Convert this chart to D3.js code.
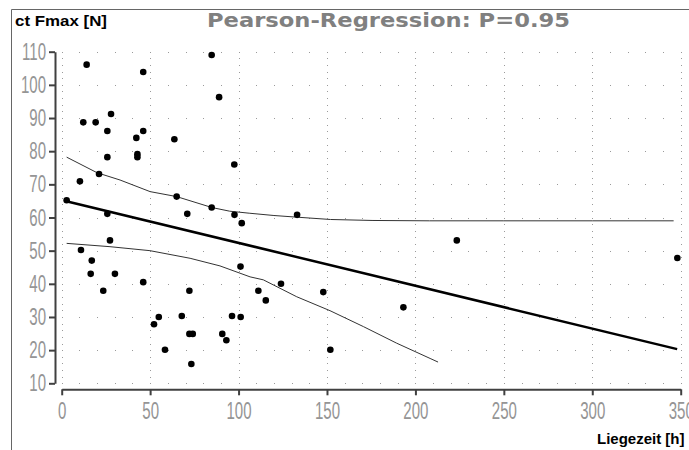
<!DOCTYPE html>
<html>
<head>
<meta charset="utf-8">
<script src="https://cdn.jsdelivr.net/npm/d3@7"></script>
<style>
  body { margin: 0; background: #fff; }
  svg { display: block; }
</style>
</head>
<body>
<script>
// data
const liegezeit = [14.1, 46.1, 84.8, 89.0, 27.9, 12.2, 19.2, 25.8, 46.1, 42.2,
  63.7, 25.8, 42.8, 42.8, 97.6, 21.1, 10.3, 2.8, 65.0, 25.8,
  71.0, 84.8, 97.7, 101.8, 133.1, 27.3, 10.9, 17.0, 16.4, 30.1,
  23.5, 46.1, 101.1, 72.2, 54.9, 52.2, 67.9, 96.3, 101.2, 72.2,
  74.1, 90.8, 93.1, 58.4, 73.3, 111.2, 115.4, 124.0, 147.9, 193.2,
  151.9, 223.4, 348.1];
const fmax = [106.1, 103.9, 109.0, 96.3, 91.2, 88.7, 88.7, 86.1, 86.1, 84.0,
  83.6, 78.2, 79.1, 78.2, 76.0, 73.1, 70.9, 65.2, 66.3, 61.1,
  61.1, 63.0, 60.8, 58.3, 60.8, 53.1, 50.2, 47.0, 43.0, 43.0,
  37.9, 40.5, 45.2, 37.9, 30.0, 27.8, 30.3, 30.3, 30.0, 24.9,
  24.9, 24.9, 23.0, 20.1, 15.8, 37.9, 35.0, 40.0, 37.5, 32.9,
  20.1, 53.1, 47.8];

const fitX = [2, 348];
const fitY = [65.0, 20.3];

const upperX = [2.8, 20, 33, 50, 65, 85, 95, 106, 120, 133, 152, 176, 208, 250, 300, 346];
const upperY = [78.2, 73.5, 71.3, 67.8, 66.3, 63.0, 61.9, 61.3, 60.6, 60.1, 59.4, 59.1, 59.0, 59.0, 59.0, 59.0];

const lowerX = [2.8, 27.3, 49.9, 72.6, 89.5, 106.5, 114, 132.9, 151.7, 170.6, 189.4, 208.3, 212.8];
const lowerY = [52.2, 51.2, 50.0, 47.7, 45.4, 42.1, 41.2, 36.1, 31.9, 27.1, 22.1, 17.5, 16.4];

const xTicks = [0, 50, 100, 150, 200, 250, 300, 350];
const yTicks = [10, 20, 30, 40, 50, 60, 70, 80, 90, 100, 110];

const title = 'Pearson-Regression: P=0.95';
const yTitle = 'ct Fmax [N]';
const xTitle = 'Liegezeit [h]';

const width = 689, height = 450;
const squeeze = 0.64;

const svg = d3.select('body').append('svg')
  .attr('width', width)
  .attr('height', height);

let x = d3.scaleLinear().domain([0, 350]).range([61.7, 680.7]);
let y = d3.scaleLinear().domain([10, 110]).range([383.3, 51.7]);

// frame
svg.append('path')
  .attr('d', `M11.5,${height} V9.5 H${width}`)
  .attr('fill', 'none')
  .attr('stroke', '#666')
  .attr('stroke-width', 1);

// dotted grid
let grid = svg.append('g').attr('fill', '#9a9a9a');
let rowDots = [];
yTicks.forEach(v => d3.range(0, 351, 10).forEach(u => rowDots.push([u, v])));
let colDots = [];
xTicks.forEach(u => d3.range(10, 111, 2).forEach(v => colDots.push([u, v])));
grid.selectAll('.dot').data(rowDots.concat(colDots))
  .enter().append('rect')
  .attr('x', d => Math.round(x(d[0])))
  .attr('y', d => Math.round(y(d[1])))
  .attr('width', 1)
  .attr('height', 1);

// axes
let xAxis = svg.append('g')
  .attr('transform', 'translate(0,389.3)')
  .call(d3.axisBottom(x).tickValues(xTicks).tickSize(6).tickSizeOuter(0).tickPadding(7));

let yAxis = svg.append('g')
  .attr('transform', 'translate(55,0)')
  .call(d3.axisLeft(y).tickValues(yTicks).tickSize(6).tickSizeOuter(0).tickPadding(3));

[xAxis, yAxis].forEach(a => {
  a.select('.domain').attr('stroke', '#404040').attr('stroke-width', 2);
  a.selectAll('.tick line').attr('stroke', '#404040').attr('stroke-width', 2);
  a.selectAll('.tick text')
    .attr('fill', '#959595')
    .attr('font-family', 'Liberation Sans, Arial, sans-serif')
    .attr('font-size', 23.5)
    .attr('transform', `scale(${squeeze},1)`);
});
yAxis.selectAll('.tick text').attr('x', -9 / squeeze);

// confidence bands
let band = d3.line().x(d => x(d[0])).y(d => y(d[1]));
svg.append('path')
  .attr('d', band(upperX.map((v, i) => [v, upperY[i]])))
  .attr('fill', 'none').attr('stroke', '#333').attr('stroke-width', 1);
svg.append('path')
  .attr('d', band(lowerX.map((v, i) => [v, lowerY[i]])))
  .attr('fill', 'none').attr('stroke', '#333').attr('stroke-width', 1);

// regression line
svg.append('path')
  .attr('d', band(fitX.map((v, i) => [v, fitY[i]])))
  .attr('fill', 'none').attr('stroke', '#000').attr('stroke-width', 2.5);

// points
svg.selectAll('.pt').data(liegezeit)
  .enter().append('circle')
  .attr('class', 'pt')
  .attr('cx', (d, i) => x(d))
  .attr('cy', (d, i) => y(fmax[i]))
  .attr('r', 3.3)
  .attr('fill', '#000');

// texts
svg.append('text')
  .attr('x', 15).attr('y', 26)
  .attr('font-family', 'Liberation Sans, Arial, sans-serif')
  .attr('font-weight', 'bold')
  .attr('font-size', 14.5)
  .attr('textLength', 92)
  .attr('lengthAdjust', 'spacingAndGlyphs')
  .text(yTitle);

svg.append('text')
  .attr('x', 207).attr('y', 27)
  .attr('font-family', 'DejaVu Sans, Verdana, sans-serif')
  .attr('font-weight', 'bold')
  .attr('font-size', 19)
  .attr('fill', '#808080')
  .attr('textLength', 363)
  .attr('lengthAdjust', 'spacingAndGlyphs')
  .text(title);

svg.append('text')
  .attr('x', 597).attr('y', 444)
  .attr('font-family', 'Liberation Sans, Arial, sans-serif')
  .attr('font-weight', 'bold')
  .attr('font-size', 15)
  .text(xTitle);
</script>
</body>
</html>
